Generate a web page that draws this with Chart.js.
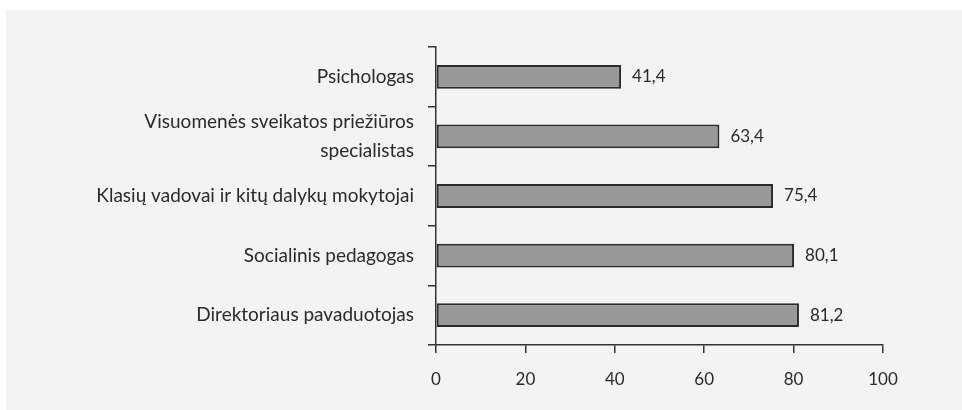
<!DOCTYPE html>
<html>
<head>
<meta charset="utf-8">
<script src="https://cdn.jsdelivr.net/npm/chart.js@4/dist/chart.umd.min.js"></script>
<style>
  html, body { margin: 0; padding: 0; background: #fff; }
  #wrap { width: 962px; height: 410px; }
</style>
</head>
<body>
<div id="wrap"><canvas id="myChart" width="962" height="410"></canvas></div>
<script>
var categories = [
  "Psichologas",
  ["Visuomenės sveikatos priežiūros", "specialistas"],
  "Klasių vadovai ir kitų dalykų mokytojai",
  "Socialinis pedagogas",
  "Direktoriaus pavaduotojas"
];
var values = [41.4, 63.4, 75.4, 80.1, 81.2];
var xTicks = [0, 20, 40, 60, 80, 100];

var textColor = "#2a2a2a";
var lineColor = "#333";
var fontFamily = "Lato, 'Noto Sans', sans-serif";

// gray panel behind the chart
var panel = {
  id: "panel",
  beforeDraw: function(chart) {
    var c = chart.ctx;
    c.save();
    c.fillStyle = "#fff";
    c.fillRect(0, 0, chart.width, chart.height);
    c.fillStyle = "#f3f3f3";
    c.fillRect(6, 10, chart.width - 6, chart.height - 10);
    c.restore();
  }
};

// value labels at the end of each bar, with a decimal comma
var valueLabels = {
  id: "valueLabels",
  afterDatasetsDraw: function(chart) {
    var c = chart.ctx;
    var meta = chart.getDatasetMeta(0);
    c.save();
    c.fillStyle = textColor;
    c.font = "17px " + fontFamily;
    c.textBaseline = "middle";
    c.textAlign = "left";
    meta.data.forEach(function(bar, i) {
      var txt = values[i].toFixed(1).replace(".", ",");
      c.fillText(txt, bar.x + 11, bar.y);
    });
    c.restore();
  }
};

var ctx = document.getElementById("myChart").getContext("2d");
var chart = new Chart(ctx, {
  type: "bar",
  data: {
    labels: categories,
    datasets: [{
      data: values,
      backgroundColor: "#999999",
      borderColor: "#2b2b2b",
      borderWidth: 2,
      borderSkipped: false,
      barPercentage: 1,
      categoryPercentage: 0.4
    }]
  },
  options: {
    indexAxis: "y",
    responsive: false,
    animation: false,
    layout: { padding: { top: 47, right: 79, bottom: 20, left: 0 } },
    plugins: {
      legend: { display: false },
      tooltip: { enabled: false }
    },
    scales: {
      x: {
        min: 0,
        max: 100,
        afterBuildTicks: function(scale) {
          scale.ticks = xTicks.map(function(v) { return { value: v }; });
        },
        afterFit: function(scale) { scale.height = 45; },
        border: { display: true, color: lineColor, width: 1.5 },
        grid: { drawOnChartArea: false, drawTicks: true, tickLength: 8, color: lineColor, lineWidth: 1.5 },
        ticks: { color: textColor, padding: 16, autoSkip: false, font: { family: fontFamily, size: 17 } }
      },
      y: {
        afterFit: function(scale) { scale.width = 436; },
        border: { display: true, color: lineColor, width: 1.5 },
        grid: { drawOnChartArea: false, drawTicks: true, tickLength: 8, color: lineColor, lineWidth: 1.5, offset: true },
        ticks: { color: textColor, padding: 14, autoSkip: false, font: { family: fontFamily, size: 19, lineHeight: 1.5 } }
      }
    }
  },
  plugins: [panel, valueLabels]
});
</script>
</body>
</html>
